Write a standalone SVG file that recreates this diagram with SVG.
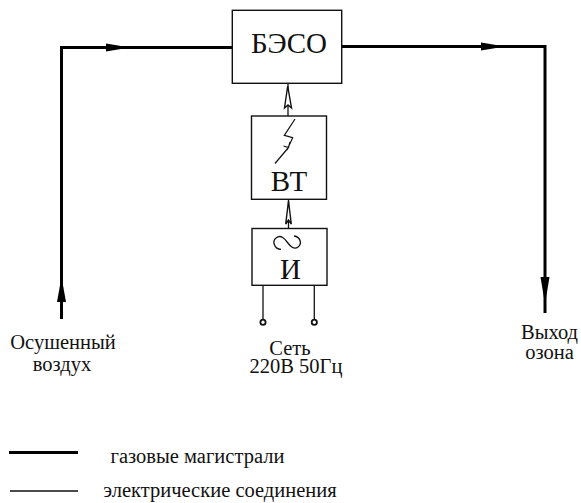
<svg xmlns="http://www.w3.org/2000/svg" width="581" height="503" viewBox="0 0 581 503">
<style>
text{font-family:"Liberation Serif",serif;fill:#111;text-anchor:middle}
.box{fill:#fff;stroke:#111;stroke-width:1.4}
.gas{fill:none;stroke:#000;stroke-width:3}
.el{fill:none;stroke:#111;stroke-width:1.3}
.head{fill:#000}
.dbl{fill:#fff;stroke:#111;stroke-width:1.4}
.t16{font-size:20.5px}
.t26{font-size:29px}
</style>
<rect width="581" height="503" fill="#fff"/>
<g id="connectors">
<path class="gas" d="M233 47.500H61.500V319"/>
<path class="gas" d="M341 46.500H545V313"/>
<path class="head" d="M106 43.500L130 47.500L106 51.500Z"/>
<path class="head" d="M481 42.500L505 46.500L481 50.500Z"/>
<path class="head" d="M61.500 277L57 302H66Z"/>
<path class="head" d="M545 304L540.500 277H549.500Z"/>
<path class="el" d="M288 83V116"/>
<path class="el" d="M288.500 199V229"/>
<path class="dbl" d="M287.700 86L284.500 108L288 105L291.500 108Z"/>
<path class="dbl" d="M288.500 201L285.700 224L288.500 220L291.300 224Z"/>
<path class="el" d="M263 285V319.500"/>
<path class="el" d="M314.300 285V319.500"/>
</g>
<g id="beso">
<rect class="box" x="232.300" y="10.300" width="109.400" height="73"/>
<text class="t26" x="289" y="53">БЭСО</text>
</g>
<g id="vt">
<rect class="box" x="251.500" y="116" width="75" height="83.300"/>
<path d="M295 119L284.300 135.300L292.700 137.700L287 150M275 163.500L288.500 147.500M283.500 146L288.500 147.500L290 142" fill="none" stroke="#111" stroke-width="1.200"/>
<text class="t26" x="289" y="191">ВТ</text>
</g>
<g id="inv">
<rect class="box" x="252" y="228.500" width="75" height="56.800"/>
<path d="M281 249.300C274 249 272 241 276 238C281 234 285 239 287.500 242.500C290 246 294 250 298 247C302 244 301 237 294 236" fill="none" stroke="#111" stroke-width="1.300"/>
<text class="t26" x="290.500" y="279">И</text>
</g>
<g id="term1"><circle cx="263" cy="322.300" r="2.600" fill="#fff" stroke="#111" stroke-width="1.800"/></g>
<g id="term2"><circle cx="314.300" cy="322.300" r="2.600" fill="#fff" stroke="#111" stroke-width="1.800"/></g>
<g id="label-air">
<text class="t16" x="63" y="349">Осушенный</text>
<text class="t16" x="62" y="371">воздух</text>
</g>
<g id="label-net">
<text class="t16" x="290" y="355">Сеть</text>
<text class="t16" x="296" y="373">220В 50Гц</text>
</g>
<g id="label-out">
<text class="t16" x="549.500" y="339">Выход</text>
<text class="t16" x="549.500" y="359">озона</text>
</g>
<g id="legend">
<path class="gas" d="M9 452.500H78"/>
<path class="el" d="M10 491H78"/>
<text class="t16" x="197.500" y="463">газовые магистрали</text>
<text class="t16" x="220" y="497">электрические соединения</text>
</g>
</svg>
